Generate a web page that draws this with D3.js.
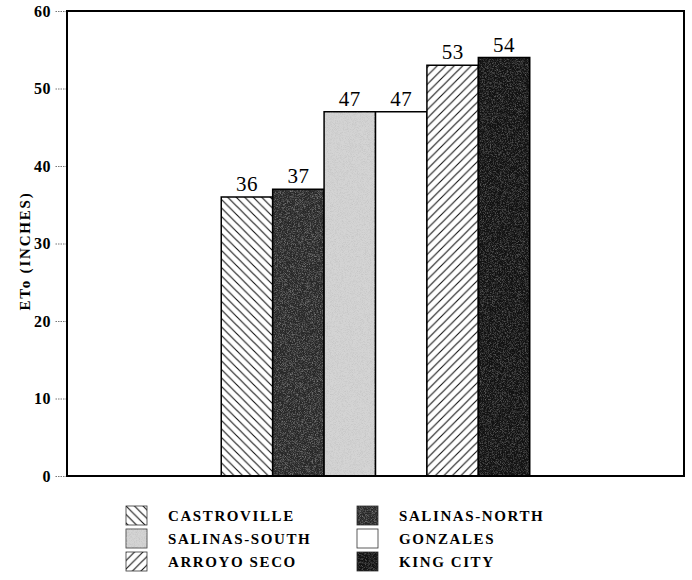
<!DOCTYPE html>
<html>
<head>
<meta charset="utf-8">
<script src="https://cdn.jsdelivr.net/npm/d3@7"></script>
<style>
  html, body { margin: 0; padding: 0; background: #fff; }
  svg { display: block; }
</style>
</head>
<body>
<svg id="chart" width="692" height="580"></svg>
<script>
// Annual reference evapotranspiration by station
const stations = ["CASTROVILLE", "SALINAS-NORTH", "SALINAS-SOUTH", "GONZALES", "ARROYO SECO", "KING CITY"];
const etoInches = [36, 37, 47, 47, 53, 54];
const yTicks = [0, 10, 20, 30, 40, 50, 60];
const fillKeys = ["hatchBack", "darkGrain", "lightGrain", "plain", "hatchFwd", "blackGrain"];

const svg = d3.select("#chart");
const margin = { left: 67, top: 11, right: 8, bottom: 104 };
const W = 692, H = 580;
const plotW = W - margin.left - margin.right;
const plotH = H - margin.top - margin.bottom;

const serif = "'Liberation Serif', 'Times New Roman', serif";

// ---- fill patterns ----
const defs = svg.append("defs");

function hatch(id, backward) {
  const p = defs.append("pattern").attr("id", id)
    .attr("patternUnits", "userSpaceOnUse").attr("width", 8.5).attr("height", 8.5);
  p.append("rect").attr("width", 8.5).attr("height", 8.5).attr("fill", "#fff");
  const d = backward
    ? "M-2,6.5 L2,10.5 M0,0 L8.5,8.5 M6.5,-2 L10.5,2"
    : "M-2,2 L2,-2 M0,8.5 L8.5,0 M6.5,10.5 L10.5,6.5";
  p.append("path").attr("d", d).attr("stroke", "#111").attr("stroke-width", 1.1);
}
hatch("hatchBack", true);
hatch("hatchFwd", false);

// fine stipple laid over the toned fills
function grain(id, speck, strength, seed) {
  const f = defs.append("filter").attr("id", id + "F")
    .attr("x", 0).attr("y", 0).attr("width", 1).attr("height", 1);
  f.append("feTurbulence").attr("type", "fractalNoise").attr("baseFrequency", 1.4)
    .attr("numOctaves", 1).attr("seed", seed).attr("result", "n");
  f.append("feColorMatrix").attr("in", "n").attr("type", "matrix")
    .attr("values", `0 0 0 0 ${speck} 0 0 0 0 ${speck} 0 0 0 0 ${speck} 0 0 0 ${strength * 2.2} ${-strength * 0.95}`)
    .attr("result", "s");
  f.append("feComposite").attr("in", "s").attr("in2", "SourceGraphic").attr("operator", "in");
}
const tones = {
  hatchBack: "url(#hatchBack)",
  hatchFwd: "url(#hatchFwd)",
  plain: "#ffffff",
  darkGrain: "#282828",
  lightGrain: "#d4d4d4",
  blackGrain: "#121212"
};
grain("darkGrain", 0.38, 0.8, 3);
grain("lightGrain", 0.55, 1.1, 5);
grain("blackGrain", 0.3, 0.7, 7);

const g = svg.append("g").attr("transform", `translate(${margin.left},${margin.top})`);

// ---- scales ----
const y = d3.scaleLinear().domain([0, 60]).range([plotH, 0]);
const x = d3.scaleBand().domain(stations).range([plotW / 4, plotW * 3 / 4]).padding(0);

// ---- y axis ----
const yAxis = g.append("g").call(d3.axisLeft(y).tickValues(yTicks).tickSize(12).tickPadding(4));
yAxis.select(".domain").remove();
yAxis.selectAll(".tick line").attr("stroke", "#777").attr("stroke-dasharray", "1.5,1");
yAxis.selectAll(".tick text")
  .attr("font-family", serif).attr("font-weight", "bold").attr("font-size", 16)
  .attr("fill", "#000").attr("letter-spacing", 0.5);

svg.append("text")
  .attr("transform", `translate(30,251) rotate(-90)`)
  .attr("text-anchor", "middle")
  .attr("font-family", serif).attr("font-weight", "bold").attr("font-size", 15)
  .attr("letter-spacing", 1.8)
  .text("ETo (INCHES)");

// ---- bars ----
const data = stations.map((s, i) => ({ station: s, value: etoInches[i], fill: fillKeys[i] }));

g.selectAll("rect.bar").data(data).enter().append("rect")
  .attr("class", "bar")
  .attr("x", d => x(d.station))
  .attr("y", d => y(d.value))
  .attr("width", x.bandwidth())
  .attr("height", d => y(0) - y(d.value))
  .attr("fill", d => tones[d.fill])
  .attr("stroke", "#000").attr("stroke-width", 1.5);

// stipple overlay on toned bars
g.selectAll("rect.speck").data(data.filter(d => d.fill.endsWith("Grain"))).enter().append("rect")
  .attr("class", "speck")
  .attr("x", d => x(d.station) + 1)
  .attr("y", d => y(d.value) + 1)
  .attr("width", x.bandwidth() - 2)
  .attr("height", d => y(0) - y(d.value) - 2)
  .attr("fill", d => tones[d.fill])
  .attr("filter", d => `url(#${d.fill}F)`);

// value labels
g.selectAll("text.val").data(data).enter().append("text")
  .attr("class", "val")
  .attr("x", d => x(d.station) + x.bandwidth() / 2)
  .attr("y", d => y(d.value) - 6)
  .attr("text-anchor", "middle")
  .attr("font-family", serif).attr("font-size", 21)
  .attr("letter-spacing", 0.5)
  .text(d => d.value);

// ---- frame ----
g.append("rect").attr("x", 0).attr("y", 0).attr("width", plotW).attr("height", plotH)
  .attr("fill", "none").attr("stroke", "#000").attr("stroke-width", 2);

// ---- legend ----
const legend = svg.append("g");
const colX = [126, 357];
const rowY = [506, 529, 552];
data.forEach((d, i) => {
  const col = i % 2, row = Math.floor(i / 2);
  const lg = legend.append("g").attr("transform", `translate(${colX[col]},${rowY[row]})`);
  lg.append("rect").attr("width", 21).attr("height", 19)
    .attr("fill", tones[d.fill]).attr("stroke", "#333").attr("stroke-width", 0.8);
  if (d.fill.endsWith("Grain")) {
    lg.append("rect").attr("x", 0.5).attr("y", 0.5).attr("width", 20).attr("height", 18)
      .attr("fill", tones[d.fill]).attr("filter", `url(#${d.fill}F)`);
  }
  lg.append("text").attr("x", 42).attr("y", 15)
    .attr("font-family", serif).attr("font-weight", "bold").attr("font-size", 15)
    .attr("letter-spacing", 1.6)
    .text(d.station);
});
</script>
</body>
</html>
